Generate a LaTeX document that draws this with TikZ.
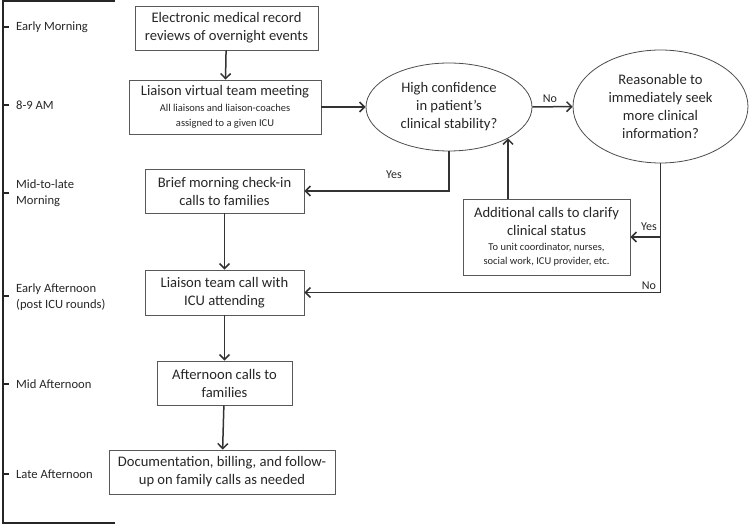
\documentclass[tikz,border=0pt]{standalone}
\usepackage{fontspec}
\setmainfont{Carlito}
\usepackage{tikz}
\usetikzlibrary{shapes,arrows.meta}
\tikzstyle{block} = [rectangle, draw=black!65, line width=0.8pt, text=black!85, align=center, font=\fontsize{14.6}{18}\selectfont, inner sep=0pt]
\tikzstyle{decision} = [ellipse, draw=black!70, line width=0.8pt, text=black!85, align=center, font=\fontsize{14.6}{18}\selectfont, inner sep=0pt]
\tikzstyle{line} = [draw=black!80, line width=1.5pt, -{Straight Barb[length=5pt,width=10pt]}]
\tikzstyle{timelabel} = [anchor=west, align=left, text=black!85, font=\fontsize{12.6}{15.5}\selectfont, inner sep=0pt]
\tikzstyle{edgelabel} = [text=black!85, font=\fontsize{12}{14}\selectfont, inner sep=0pt]
\newcommand{\smalltext}[1]{{\fontsize{10.5}{15}\selectfont #1}}

\begin{document}
\begin{tikzpicture}[x=1pt,y=1pt]
\useasboundingbox (0,0) rectangle (750,-526);
% time axis
\draw [line width=1.6pt, black!85] (115,-1) -- (3,-1) -- (3,-523) -- (115,-523);
\foreach \ty in {27,105,193,296,384,474}
  \draw [line width=1.3pt, black!85] (3,-\ty) -- (9,-\ty);
\node [timelabel] (tEarly) at (16,-27) {Early Morning};
\node [timelabel] (tAM) at (16,-105) {8-9 AM};
\node [timelabel] (tMid) at (16,-193) {Mid-to-late\\Morning};
\node [timelabel] (tEaft) at (16,-297) {Early Afternoon\\(post ICU rounds)};
\node [timelabel] (tMaft) at (16,-384) {Mid Afternoon};
\node [timelabel] (tLaft) at (16,-474) {Late Afternoon};
% boxes
\node [block, minimum width=183pt, minimum height=44pt] (emr) at (226.5,-28) {Electronic medical record\\reviews of overnight events};
\node [block, minimum width=192pt, minimum height=54pt] (meet) at (225,-107) {Liaison virtual team meeting\\[-2pt]\smalltext{All liaisons and liaison-coaches}\\[-3pt]\smalltext{assigned to a given ICU}};
\node [block, minimum width=159pt, minimum height=44pt] (brief) at (224.5,-191) {Brief morning check-in\\calls to families};
\node [block, minimum width=159pt, minimum height=45pt] (call) at (224.5,-292.5) {Liaison team call with\\ICU attending};
\node [block, minimum width=135pt, minimum height=44pt] (aft) at (224.5,-383) {Afternoon calls to\\families};
\node [block, minimum width=226pt, minimum height=44pt] (doc) at (222,-472) {Documentation, billing, and follow-\\up on family calls as needed};
\node [decision, minimum width=166pt, minimum height=88pt] (hc) at (449,-107) {High confidence\\in patient’s\\clinical stability?};
\node [decision, minimum width=175pt, minimum height=113pt] (rs) at (660.5,-106.5) {Reasonable to\\immediately seek\\more clinical\\information?};
\node [block, minimum width=167pt, minimum height=76pt] (addl) at (546.5,-237) {Additional calls to clarify\\clinical status\\[-3pt]\smalltext{To unit coordinator, nurses,}\\[-4pt]\smalltext{social work, ICU provider, etc.}};
% connectors
\path [line] (emr) -- (meet);
\path [line] (meet) -- (hc);
\path [line] (hc) -- (rs);
\path [line] (hc.south) |- (brief.east);
\path [line] (addl.north -| hc.-28) -- (hc.-28);
\coordinate (branch) at (rs.south |- addl.east);
\path [line] (rs.south) |- (call.east);
\path [line] (branch) -- (addl.east);
\path [line] (brief) -- (call);
\path [line] (call) -- (aft);
\path [line] (aft) -- (doc);
% labels
\node [edgelabel] (lNo1) at (550,-99) {No};
\node [edgelabel] (lYes1) at (394,-175) {Yes};
\node [edgelabel] (lYes2) at (649,-227) {Yes};
\node [edgelabel] (lNo2) at (649,-286) {No};
\end{tikzpicture}
\end{document}
